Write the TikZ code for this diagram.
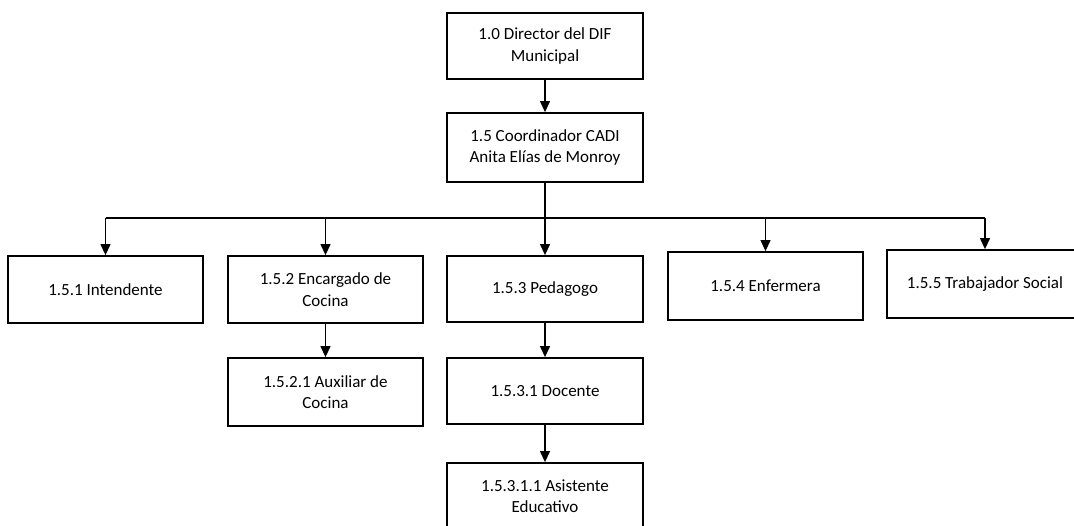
\documentclass[tikz,border=0pt]{standalone}
\usepackage{fontspec}
\setmainfont{Carlito}
\usetikzlibrary{arrows.meta}
\begin{document}
\begin{tikzpicture}[x=1pt,y=-1pt,
  orgbox/.style={draw=black, line width=1.8pt, rectangle, minimum width=195pt, minimum height=67pt,
    align=center, inner sep=2pt, font=\fontsize{17}{21.5}\selectfont},
  link/.style={line width=1.2pt, -{Triangle[width=10pt,length=11pt]}},
  bar/.style={line width=1.2pt}]
\useasboundingbox (0,0) rectangle (1074,525);
\node[orgbox, minimum width=196pt, minimum height=66pt] (dir) at (545,46) {1.0 Director del DIF\\Municipal};
\node[orgbox, minimum width=196pt, minimum height=69pt] (coord) at (545,147.5) {1.5 Coordinador CADI\\Anita Elías de Monroy};
\node[orgbox] (int) at (105.5,289.5) {1.5.1 Intendente};
\node[orgbox] (enc) at (325.5,289.5) {1.5.2 Encargado de\\Cocina};
\node[orgbox, minimum width=196pt, minimum height=66pt] (ped) at (545,289) {1.5.3 Pedagogo};
\node[orgbox, minimum height=68pt] (enf) at (765.5,286) {1.5.4 Enfermera};
\node[orgbox, minimum width=196pt, minimum height=68pt] (tra) at (985,284) {1.5.5 Trabajador Social};
\node[orgbox, minimum height=68pt] (aux) at (325.5,392) {1.5.2.1 Auxiliar de\\Cocina};
\node[orgbox, minimum width=196pt, minimum height=66pt] (doc) at (545,391) {1.5.3.1 Docente};
\node[orgbox, minimum width=196pt, minimum height=66pt] (asi) at (545,496) {1.5.3.1.1 Asistente\\Educativo};
\coordinate (bus) at (0,218);
\draw[link] (dir) -- (coord);
\draw[bar] (coord.south) -- (coord.south |- bus);
\draw[bar] (int.north |- bus) -- (tra.north |- bus);
\foreach \n in {int,enc,ped,enf,tra} \draw[link] (\n.north |- bus) -- (\n.north);
\draw[link] (enc) -- (aux);
\draw[link] (ped) -- (doc);
\draw[link] (doc) -- (asi);
\end{tikzpicture}
\end{document}
